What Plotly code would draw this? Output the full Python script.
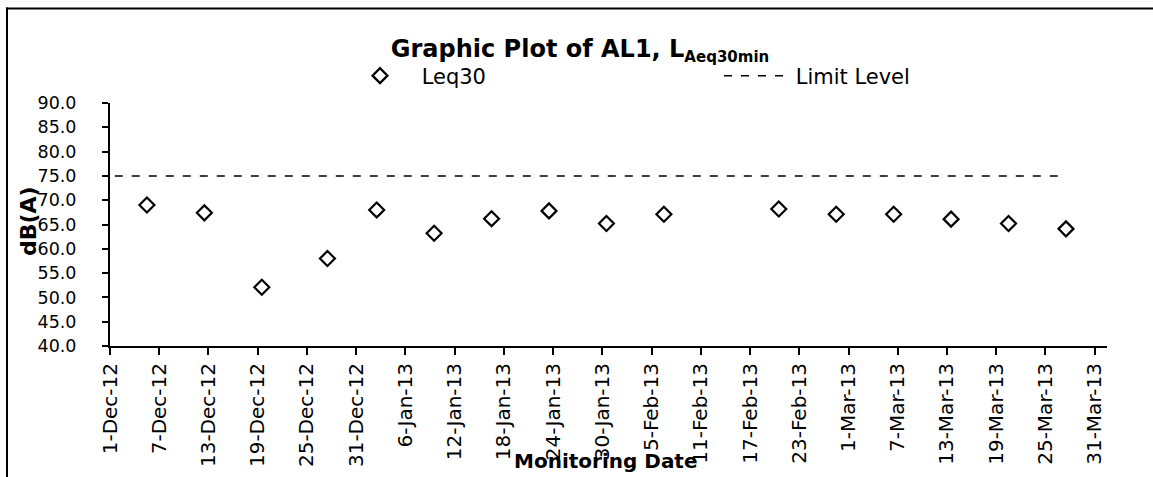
import plotly.graph_objects as go

# ---- data ----
dates = ["2012-12-05 12:00", "2012-12-12 12:00", "2012-12-19 12:00", "2012-12-27 12:00",
         "2013-01-02 12:00", "2013-01-09 12:00", "2013-01-16 12:00", "2013-01-23 12:00",
         "2013-01-30 12:00", "2013-02-06 12:00", "2013-02-20 12:00", "2013-02-27 12:00",
         "2013-03-06 12:00", "2013-03-13 12:00", "2013-03-20 12:00", "2013-03-27 12:00"]
leq30 = [69.0, 67.4, 52.1, 58.0, 68.0, 63.2, 66.2, 67.8, 65.2, 67.1,
         68.2, 67.1, 67.1, 66.1, 65.2, 64.1]
limit_dates = ["2012-12-01 14:00", "2013-03-27 12:00"]
limit_level = [75.0, 75.0]

x_range = ["2012-12-01", "2013-04-01 12:00"]
y_range = [40, 90]

FONT = "DejaVu Sans"
W, H = 1153, 477
# plot area in page pixels
PL, PR, PT, PB = 110, 1107, 103, 346
L, R, T, B = PL, W - PR, PT, H - PB
PW, PH = W - L - R, H - T - B


def px(xp):  # pixel -> paper x
    return (xp - L) / PW


def py(yp):  # pixel -> paper y
    return (H - B - yp) / PH


fig = go.Figure()
fig.add_trace(go.Scatter(
    x=dates, y=leq30, mode="markers", name="\u00a0Leq30",
    marker=dict(symbol="diamond-open", size=11.5, color="black",
                line=dict(color="black", width=2.2)),
))
fig.add_trace(go.Scatter(
    x=limit_dates, y=limit_level, mode="lines", name="\u00a0Limit Level",
    line=dict(color="black", width=1.5, dash="8px,9px"),
))

fig.update_layout(
    width=W, height=H,
    margin=dict(l=L, r=R, t=T, b=B, autoexpand=False),
    paper_bgcolor="white", plot_bgcolor="white",
    font=dict(family=FONT, color="black"),
    title=dict(
        text="<b>Graphic Plot of AL1, L<sub><span style='font-size:15px'>Aeq30min</span></sub></b>",
        font=dict(family=FONT, size=24, color="black"),
        x=px(580), xref="paper", xanchor="center",
        y=1 - 49 / H, yref="container", yanchor="middle",
    ),
    showlegend=True,
    legend=dict(
        orientation="h", x=px(345), y=py(76), xanchor="left", yanchor="middle",
        font=dict(family=FONT, size=21, color="black"),
        itemwidth=60, entrywidth=299, entrywidthmode="pixels",
        bgcolor="rgba(0,0,0,0)",
    ),
    xaxis=dict(
        type="date", range=x_range,
        tick0="2012-12-01", dtick=6 * 86400000, tickformat="%-d-%b-%y",
        tickangle=-90, tickfont=dict(family=FONT, size=20, color="black"),
        ticks="outside", ticklen=7, tickwidth=1.5, tickcolor="black",
        showline=True, linecolor="black", linewidth=2,
        showgrid=False, zeroline=False, ticklabelstandoff=0,
    ),
    yaxis=dict(
        range=y_range, dtick=5, tick0=40, tickformat=".1f",
        tickfont=dict(family=FONT, size=17.5, color="black"),
        ticks="outside", ticklen=6, tickwidth=1.5, tickcolor="black",
        showline=True, linecolor="black", linewidth=2,
        showgrid=False, zeroline=False, ticklabelstandoff=22,
    ),
    annotations=[
        dict(text="<b>dB(A)</b>", x=px(28), y=py(221), xref="paper", yref="paper",
             showarrow=False, textangle=-90, xanchor="center", yanchor="middle",
             font=dict(family=FONT, size=22, color="black")),
        dict(text="<b>Monitoring Date</b>", x=px(606), y=py(461), xref="paper", yref="paper",
             showarrow=False, xanchor="center", yanchor="middle",
             font=dict(family=FONT, size=20, color="black")),
    ],
    shapes=[
        dict(type="line", xref="paper", yref="paper", x0=px(7), x1=px(7),
             y0=py(H + 10), y1=py(7.5), line=dict(color="black", width=2)),
        dict(type="line", xref="paper", yref="paper", x0=px(6), x1=px(W + 10),
             y0=py(8.5), y1=py(8.5), line=dict(color="black", width=2)),
    ],
)

fig.write_html(
    "out.html",
    config={"displayModeBar": False},
    post_script="document.body.style.margin='0';document.body.style.overflow='hidden';",
)
